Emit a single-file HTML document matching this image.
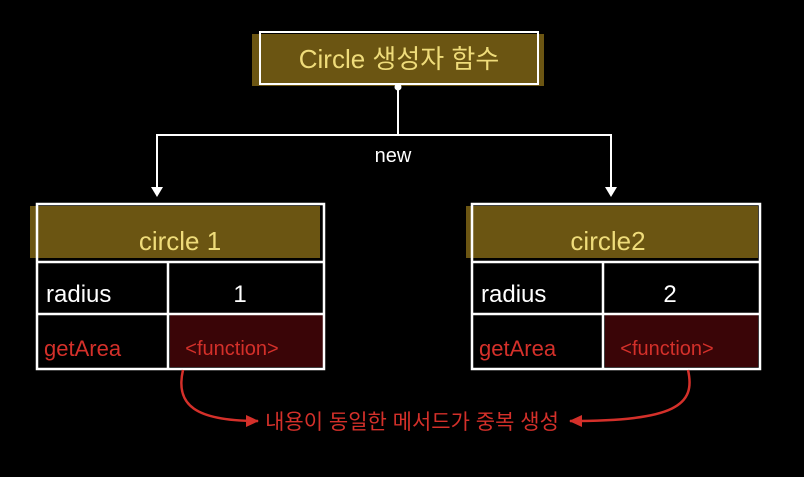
<!DOCTYPE html>
<html><head><meta charset="utf-8"><style>
html,body{margin:0;padding:0;background:#000;width:804px;height:477px;overflow:hidden}
svg{display:block}
text{font-family:"Liberation Sans","Noto Sans CJK KR",sans-serif}
</style></head><body>
<svg width="804" height="477" viewBox="0 0 804 477">
<defs>
<marker id="aw" markerWidth="10" markerHeight="10" refX="5" refY="8" orient="auto" markerUnits="userSpaceOnUse"><path d="M0,0 L10,0 L5,9 Z" fill="#fff"/></marker>
<marker id="ar" markerWidth="14" markerHeight="12" refX="12" refY="6" orient="auto" markerUnits="userSpaceOnUse"><path d="M0,0 L13,6 L0,12 Z" fill="#d4302a"/></marker>
</defs>
<!-- top box -->
<rect x="252" y="34" width="292" height="52" fill="#6b5512"/>
<rect x="260" y="32" width="278" height="52" fill="none" stroke="#fff" stroke-width="2"/>
<text x="399" y="68" font-size="26" fill="#efdc7a" text-anchor="middle">Circle 생성자 함수</text>
<!-- connectors -->
<circle cx="398" cy="87" r="3.5" fill="#fff"/>
<path d="M398 88 V135 M157 135 H611 M157 134 V195 M611 134 V195" stroke="#fff" stroke-width="2" fill="none"/>
<path d="M151 187 L163 187 L157 197 Z" fill="#fff"/>
<path d="M605 187 L617 187 L611 197 Z" fill="#fff"/>
<text x="393" y="162" font-size="20" fill="#fff" text-anchor="middle">new</text>
<!-- left table -->
<rect x="30" y="206" width="290" height="52" fill="#6b5512"/>
<rect x="170" y="315" width="153" height="52" fill="#3a0507"/>
<rect x="37" y="204" width="287" height="165" fill="none" stroke="#fff" stroke-width="2.5"/>
<path d="M37 262 H324 M37 314 H324 M168 262 V369" stroke="#fff" stroke-width="2.5"/>
<text x="180" y="250" font-size="26" fill="#efdc7a" text-anchor="middle">circle 1</text>
<text x="46" y="302" font-size="24" fill="#fff">radius</text>
<text x="240" y="302" font-size="24" fill="#fff" text-anchor="middle">1</text>
<text x="44" y="356" font-size="22" fill="#d4302a">getArea</text>
<text x="232" y="355" font-size="20" fill="#d4302a" text-anchor="middle">&lt;function&gt;</text>
<!-- right table -->
<rect x="466" y="206" width="292" height="52" fill="#6b5512"/>
<rect x="605" y="315" width="153" height="52" fill="#3a0507"/>
<rect x="472" y="204" width="288" height="165" fill="none" stroke="#fff" stroke-width="2.5"/>
<path d="M472 262 H760 M472 314 H760 M603 262 V369" stroke="#fff" stroke-width="2.5"/>
<text x="608" y="250" font-size="26" fill="#efdc7a" text-anchor="middle">circle2</text>
<text x="481" y="302" font-size="24" fill="#fff">radius</text>
<text x="670" y="302" font-size="24" fill="#fff" text-anchor="middle">2</text>
<text x="479" y="356" font-size="22" fill="#d4302a">getArea</text>
<text x="667" y="355" font-size="20" fill="#d4302a" text-anchor="middle">&lt;function&gt;</text>
<!-- red arrows -->
<path d="M183 370 C175 405 195 421 258 421" stroke="#d4302a" stroke-width="2.5" fill="none" marker-end="url(#ar)"/>
<path d="M688 370 C696 405 676 421 570 421" stroke="#d4302a" stroke-width="2.5" fill="none" marker-end="url(#ar)"/>
<text x="412" y="429" font-size="21" fill="#d4302a" text-anchor="middle">내용이 동일한 메서드가 중복 생성</text>
</svg>
</body></html>
